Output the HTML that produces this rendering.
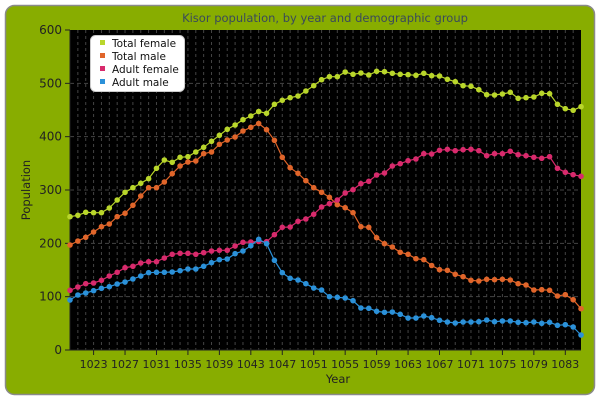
<!DOCTYPE html>
<html><head><meta charset="utf-8"><style>
html,body{margin:0;padding:0;background:#fff;width:600px;height:400px;overflow:hidden}
svg{display:block;font-family:"DejaVu Sans","Liberation Sans",sans-serif}
</style></head><body>
<svg id="s" width="600" height="400" xmlns="http://www.w3.org/2000/svg">
<rect x="5.5" y="5.5" width="589" height="389" rx="9" fill="#88ad00" stroke="#8a8a8a" stroke-width="1.5"/>
<text x="325" y="22" text-anchor="middle" font-size="11.5" fill="#3a4a5a">Kisor population, by year and demographic group</text>
<rect x="70" y="30" width="511" height="320" fill="#000"/>
<g id="grid"></g>
<g id="axes" font-size="11" fill="#222"></g>
<g id="series"></g>
<rect x="90.5" y="35.5" width="94" height="56" rx="5" fill="#fff" stroke="#ccc"/>
<g font-size="10.5" fill="#111">
<rect x="100" y="40" width="5" height="5" fill="#b9d62b"/><text x="112" y="47">Total female</text>
<rect x="100" y="53" width="5" height="5" fill="#e0652a"/><text x="112" y="60">Total male</text>
<rect x="100" y="66" width="5" height="5" fill="#d82a6c"/><text x="112" y="73">Adult female</text>
<rect x="100" y="79" width="5" height="5" fill="#2b91d9"/><text x="112" y="86">Adult male</text>
</g>
<text x="338" y="383" text-anchor="middle" font-size="11.5" fill="#222">Year</text>
<text transform="translate(30,190) rotate(-90)" text-anchor="middle" font-size="11.5" fill="#222">Population</text>
</svg>
<script>
var NS="http://www.w3.org/2000/svg";
function el(t,a,p){var e=document.createElementNS(NS,t);for(var k in a)e.setAttribute(k,a[k]);p.appendChild(e);return e;}
var g=document.getElementById("grid"),ax=document.getElementById("axes"),se=document.getElementById("series");
function X(i){return 70+i*7.862;}
for(var i=1;i<65;i++){el("line",{x1:X(i),x2:X(i),y1:30,y2:350,stroke:"#444","stroke-dasharray":"3,3","stroke-width":1},g);}
for(var v=1;v<6;v++){var y=350-v*53.333;el("line",{x1:70,x2:581,y1:y,y2:y,stroke:"#444","stroke-dasharray":"4,3","stroke-width":1},g);}
for(var v=0;v<=6;v++){var y=350-v*53.333;el("line",{x1:65,x2:70,y1:y,y2:y,stroke:"#222"},ax);var t=el("text",{x:62,y:y+4,"text-anchor":"end","font-size":12},ax);t.textContent=v*100;}
el("line",{x1:70,x2:70,y1:30,y2:350,stroke:"#222"},ax);el("line",{x1:70,x2:581,y1:350,y2:350,stroke:"#222"},ax);
for(var yr=1023;yr<=1083;yr+=4){var x=X(yr-1020);el("line",{x1:x,x2:x,y1:350,y2:355,stroke:"#222"},ax);var t=el("text",{x:x,y:368,"text-anchor":"middle"},ax);t.textContent=yr;}
var D={
"#b9d62b":[216.7,215.3,212.3,212.7,212.7,208,200,192.3,187.7,183.3,178.7,168.3,160,162.3,157.3,156.7,152,147.3,141.3,135.3,129.3,125,119.7,116,111.5,113.3,104.3,100.3,97.7,96,91,85.7,79.7,76.7,76.7,72,74.3,73,75,71.3,71.7,73.3,74.3,74.7,75.3,73.3,75.7,76,79.3,81.7,85.7,86.3,89.7,94.7,95,94,92.3,98.3,97.7,97,93.3,93.7,104.3,108.7,110.3,106.7],
"#e0652a":[245,241,237.3,232,226.7,224,216.7,213.3,205.3,196,187.7,187.7,182,173.7,166,162,161,153.7,152,144.3,140,137,131,127.3,123.5,129.7,140.3,157.3,167.7,173.3,180.7,187.7,192.3,197.3,204.7,207.7,212.7,226.7,227.3,237.7,243.7,247,252.3,254.3,258.7,259.7,265.5,269.7,270.3,274.3,276.7,280.3,281,279.3,279.7,279.3,280,283.7,285,290,289.7,290.3,296,294.7,299.7,308.7],
"#d82a6c":[290.3,287,283.7,283,280.3,276,272.3,267.7,266.3,263,261.7,261.7,258,254.3,253.3,253.3,254.3,252.7,251,250.3,250.3,246,242.3,242,241.5,241.7,234.7,227.3,227,221.3,219,214.3,207,203.7,200,193,189.7,183.7,181.3,175,173,166,163.7,160.7,159,153.7,154,150.3,149.3,150.7,149.7,149.3,150.7,155.7,153.7,153.7,151.3,154.7,155.7,157.3,158.3,156.7,168.3,172.3,174.7,176.3],
"#2b91d9":[300,295,293,290.7,288.3,286.7,284,282,279,276,272.7,272.3,272.3,272,270.7,269,269,266.3,262.7,259.7,259,253.7,251,245.7,239.3,243.7,260.3,272.7,278.3,280,283.7,288,290,296.7,297.3,298,300.7,308,308.3,311.3,312.3,312,314.3,318,318,316,317.7,320.3,322,323,322,322,321.7,320,321.7,321,321,322.3,322.7,322,323.3,322.3,325.3,324.7,327,335]};
for(var c in D){var a=D[c],p="";for(var i=0;i<a.length;i++)p+=(i?"L":"M")+X(i).toFixed(1)+","+a[i];
el("path",{d:p,fill:"none",stroke:c,"stroke-width":1.2},se);
for(var i=0;i<a.length;i++)el("circle",{cx:X(i),cy:a[i],r:2.8,fill:c},se);}
</script>
</body></html>
